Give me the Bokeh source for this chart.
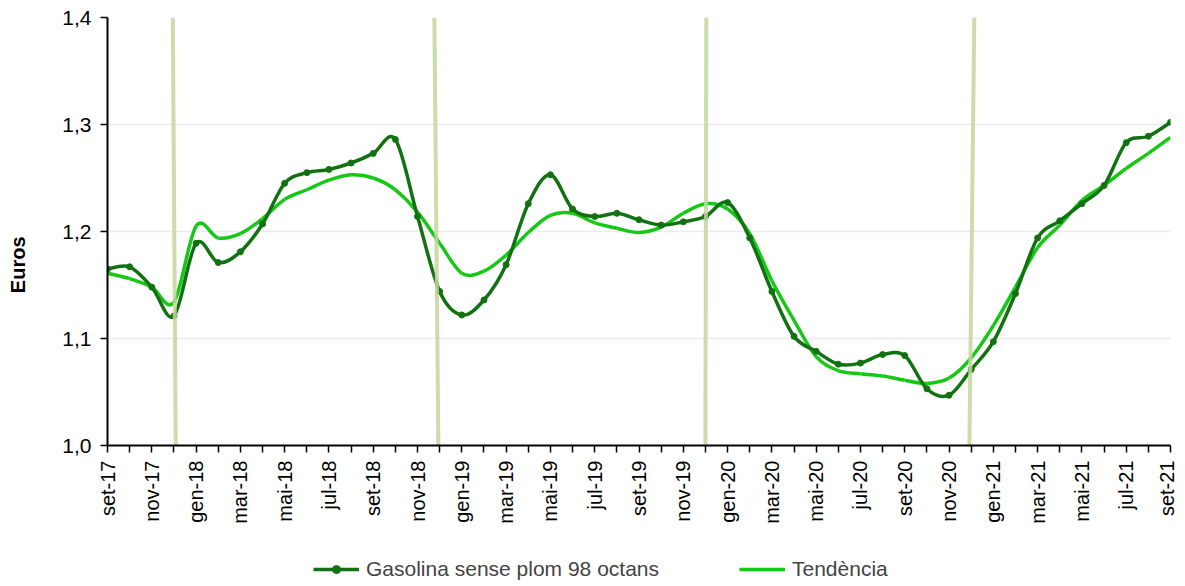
import math
from bokeh.plotting import figure
from bokeh.layouts import column
from bokeh.models import (Range1d, FixedTicker, Legend, LegendItem,
                          ColumnDataSource)
from bokeh.embed import file_html
from bokeh.resources import INLINE

# ---- data -------------------------------------------------------------
months = ["set-17", "oct-17", "nov-17", "des-17",
          "gen-18", "feb-18", "mar-18", "abr-18", "mai-18", "jun-18",
          "jul-18", "ago-18", "set-18", "oct-18", "nov-18", "des-18",
          "gen-19", "feb-19", "mar-19", "abr-19", "mai-19", "jun-19",
          "jul-19", "ago-19", "set-19", "oct-19", "nov-19", "des-19",
          "gen-20", "feb-20", "mar-20", "abr-20", "mai-20", "jun-20",
          "jul-20", "ago-20", "set-20", "oct-20", "nov-20", "des-20",
          "gen-21", "feb-21", "mar-21", "abr-21", "mai-21", "jun-21",
          "jul-21", "ago-21", "set-21"]

gasolina98 = [1.165, 1.167, 1.148, 1.121,
              1.189, 1.171, 1.181, 1.207, 1.245, 1.255,
              1.258, 1.264, 1.273, 1.286, 1.214, 1.144,
              1.122, 1.136, 1.169, 1.226, 1.253, 1.221,
              1.214, 1.217, 1.211, 1.206, 1.209, 1.214,
              1.227, 1.194, 1.144, 1.102, 1.088, 1.076,
              1.077, 1.085, 1.084, 1.053, 1.047, 1.071,
              1.097, 1.142, 1.194, 1.210, 1.226, 1.243,
              1.283, 1.289, 1.302]

tendencia = [1.161, 1.156, 1.148, 1.134,
             1.205, 1.194, 1.198, 1.212, 1.230, 1.239,
             1.248, 1.253, 1.250, 1.239, 1.218, 1.189,
             1.161, 1.163, 1.178, 1.199, 1.215, 1.217,
             1.208, 1.203, 1.199, 1.204, 1.217, 1.226,
             1.221, 1.198, 1.154, 1.117, 1.083, 1.070,
             1.067, 1.065, 1.061, 1.058, 1.063, 1.082,
             1.112, 1.148, 1.185, 1.206, 1.229, 1.243,
             1.259, 1.273, 1.288]

# year-change marker lines (month index at top / bottom of the plot)
marker_top = [2.95, 14.76, 27.04, 39.14]
marker_bottom = [3.08, 14.94, 27.0, 38.92]

y_ticks = [1.0, 1.1, 1.2, 1.3, 1.4]
y_tick_labels = ["1,0", "1,1", "1,2", "1,3", "1,4"]

DARK = "#127212"
BRIGHT = "#14c814"
FONT = "Liberation Sans"

x = list(range(len(months)))


def bezier_source(xs, ys):
    """Excel-like smoothed line: cubic Bezier segments between points."""
    n = len(xs)
    d = dict(x0=[], y0=[], x1=[], y1=[], cx0=[], cy0=[], cx1=[], cy1=[])
    for i in range(n - 1):
        im1 = max(i - 1, 0)
        ip2 = min(i + 2, n - 1)
        d["x0"].append(xs[i]); d["y0"].append(ys[i])
        d["x1"].append(xs[i + 1]); d["y1"].append(ys[i + 1])
        d["cx0"].append(xs[i] + (xs[i + 1] - xs[im1]) / 6.0)
        d["cy0"].append(ys[i] + (ys[i + 1] - ys[im1]) / 6.0)
        d["cx1"].append(xs[i + 1] - (xs[ip2] - xs[i]) / 6.0)
        d["cy1"].append(ys[i + 1] - (ys[ip2] - ys[i]) / 6.0)
    return ColumnDataSource(d)


p = figure(width=1177, height=545,
           x_range=Range1d(0, 48), y_range=Range1d(1.0, 1.4),
           output_backend="svg", toolbar_location=None,
           min_border_left=107, min_border_right=7, min_border_top=17,
           min_border_bottom=100)
p.outline_line_color = None
p.background_fill_color = "white"
p.border_fill_color = "white"

# grid
p.xgrid.grid_line_color = None
p.ygrid.grid_line_color = "#ebebeb"
p.ygrid.grid_line_width = 1.5
p.ygrid.ticker = FixedTicker(ticks=y_ticks)

# axes
p.yaxis.ticker = FixedTicker(ticks=y_ticks)
p.yaxis.major_label_overrides = {t: l for t, l in zip(y_ticks, y_tick_labels)}
p.xaxis.ticker = FixedTicker(ticks=x)
p.xaxis.major_label_overrides = {i: (m if i % 2 == 0 else "") for i, m in enumerate(months)}
p.xaxis.major_label_orientation = math.pi / 2
for ax in (p.xaxis, p.yaxis):
    ax.axis_line_color = "black"
    ax.axis_line_width = 2
    ax.major_tick_line_color = "black"
    ax.major_tick_line_width = 1.5
    ax.major_tick_out = 7
    ax.major_tick_in = 0
    ax.minor_tick_line_color = None
    ax.major_label_text_font = FONT
    ax.major_label_text_color = "black"
p.xaxis.major_label_text_font_size = "20px"
p.yaxis.major_label_text_font_size = "21px"
p.xaxis.major_label_standoff = 8
p.yaxis.major_label_standoff = 9

# y axis title (trailing no-break spaces shift it below the centre, as in the original)
p.yaxis.axis_label = "Euros" + "\u00a0" * 12
p.yaxis.axis_label_text_font = FONT
p.yaxis.axis_label_text_font_style = "bold"
p.yaxis.axis_label_text_font_size = "20px"
p.yaxis.axis_label_text_color = "black"
p.yaxis.axis_label_standoff = 30

# data lines
p.bezier(x0="x0", y0="y0", x1="x1", y1="y1", cx0="cx0", cy0="cy0",
         cx1="cx1", cy1="cy1", source=bezier_source(x, tendencia),
         line_color=BRIGHT, line_width=3.5)
p.bezier(x0="x0", y0="y0", x1="x1", y1="y1", cx0="cx0", cy0="cy0",
         cx1="cx1", cy1="cy1", source=bezier_source(x, gasolina98),
         line_color=DARK, line_width=3.5)
p.scatter(x=x, y=gasolina98, size=6, color=DARK)

# year-change markers (drawn on top, semi transparent)
p.segment(x0=marker_top, y0=[1.4] * 4, x1=marker_bottom, y1=[1.0] * 4,
          line_color="#c3d69b", line_width=4, line_alpha=0.85)

# ---- legend strip below the chart -------------------------------------
q = figure(width=1177, height=40, x_range=Range1d(0, 1), y_range=Range1d(0, 1),
           output_backend="svg", toolbar_location=None,
           min_border_left=0, min_border_right=0, min_border_top=0,
           min_border_bottom=0)
q.axis.visible = False
q.grid.visible = False
q.outline_line_color = None
q.border_fill_color = "white"
# legend-only renderers: their points lie outside the strip's visible range
off_x = [-2.0, -1.0]
off_y = [-1.0, -1.0]
lg1 = q.line(x=off_x, y=off_y, line_color=DARK, line_width=3.5)
lg1m = q.scatter(x=off_x, y=off_y, size=6, color=DARK)
lg2 = q.line(x=off_x, y=off_y, line_color=BRIGHT, line_width=3.5)
legend = Legend(items=[LegendItem(label="Gasolina sense plom 98 octans", renderers=[lg1, lg1m]),
                       LegendItem(label="Tendència", renderers=[lg2])],
                orientation="horizontal", location=(206, 4),
                label_text_font=FONT, label_text_font_size="21px",
                glyph_width=46, glyph_height=20, spacing=80,
                label_standoff=7, border_line_color=None,
                background_fill_alpha=0, margin=0, padding=0)
q.add_layout(legend, "center")

open("out.html", "w").write(file_html(column(p, q, spacing=0), INLINE))
